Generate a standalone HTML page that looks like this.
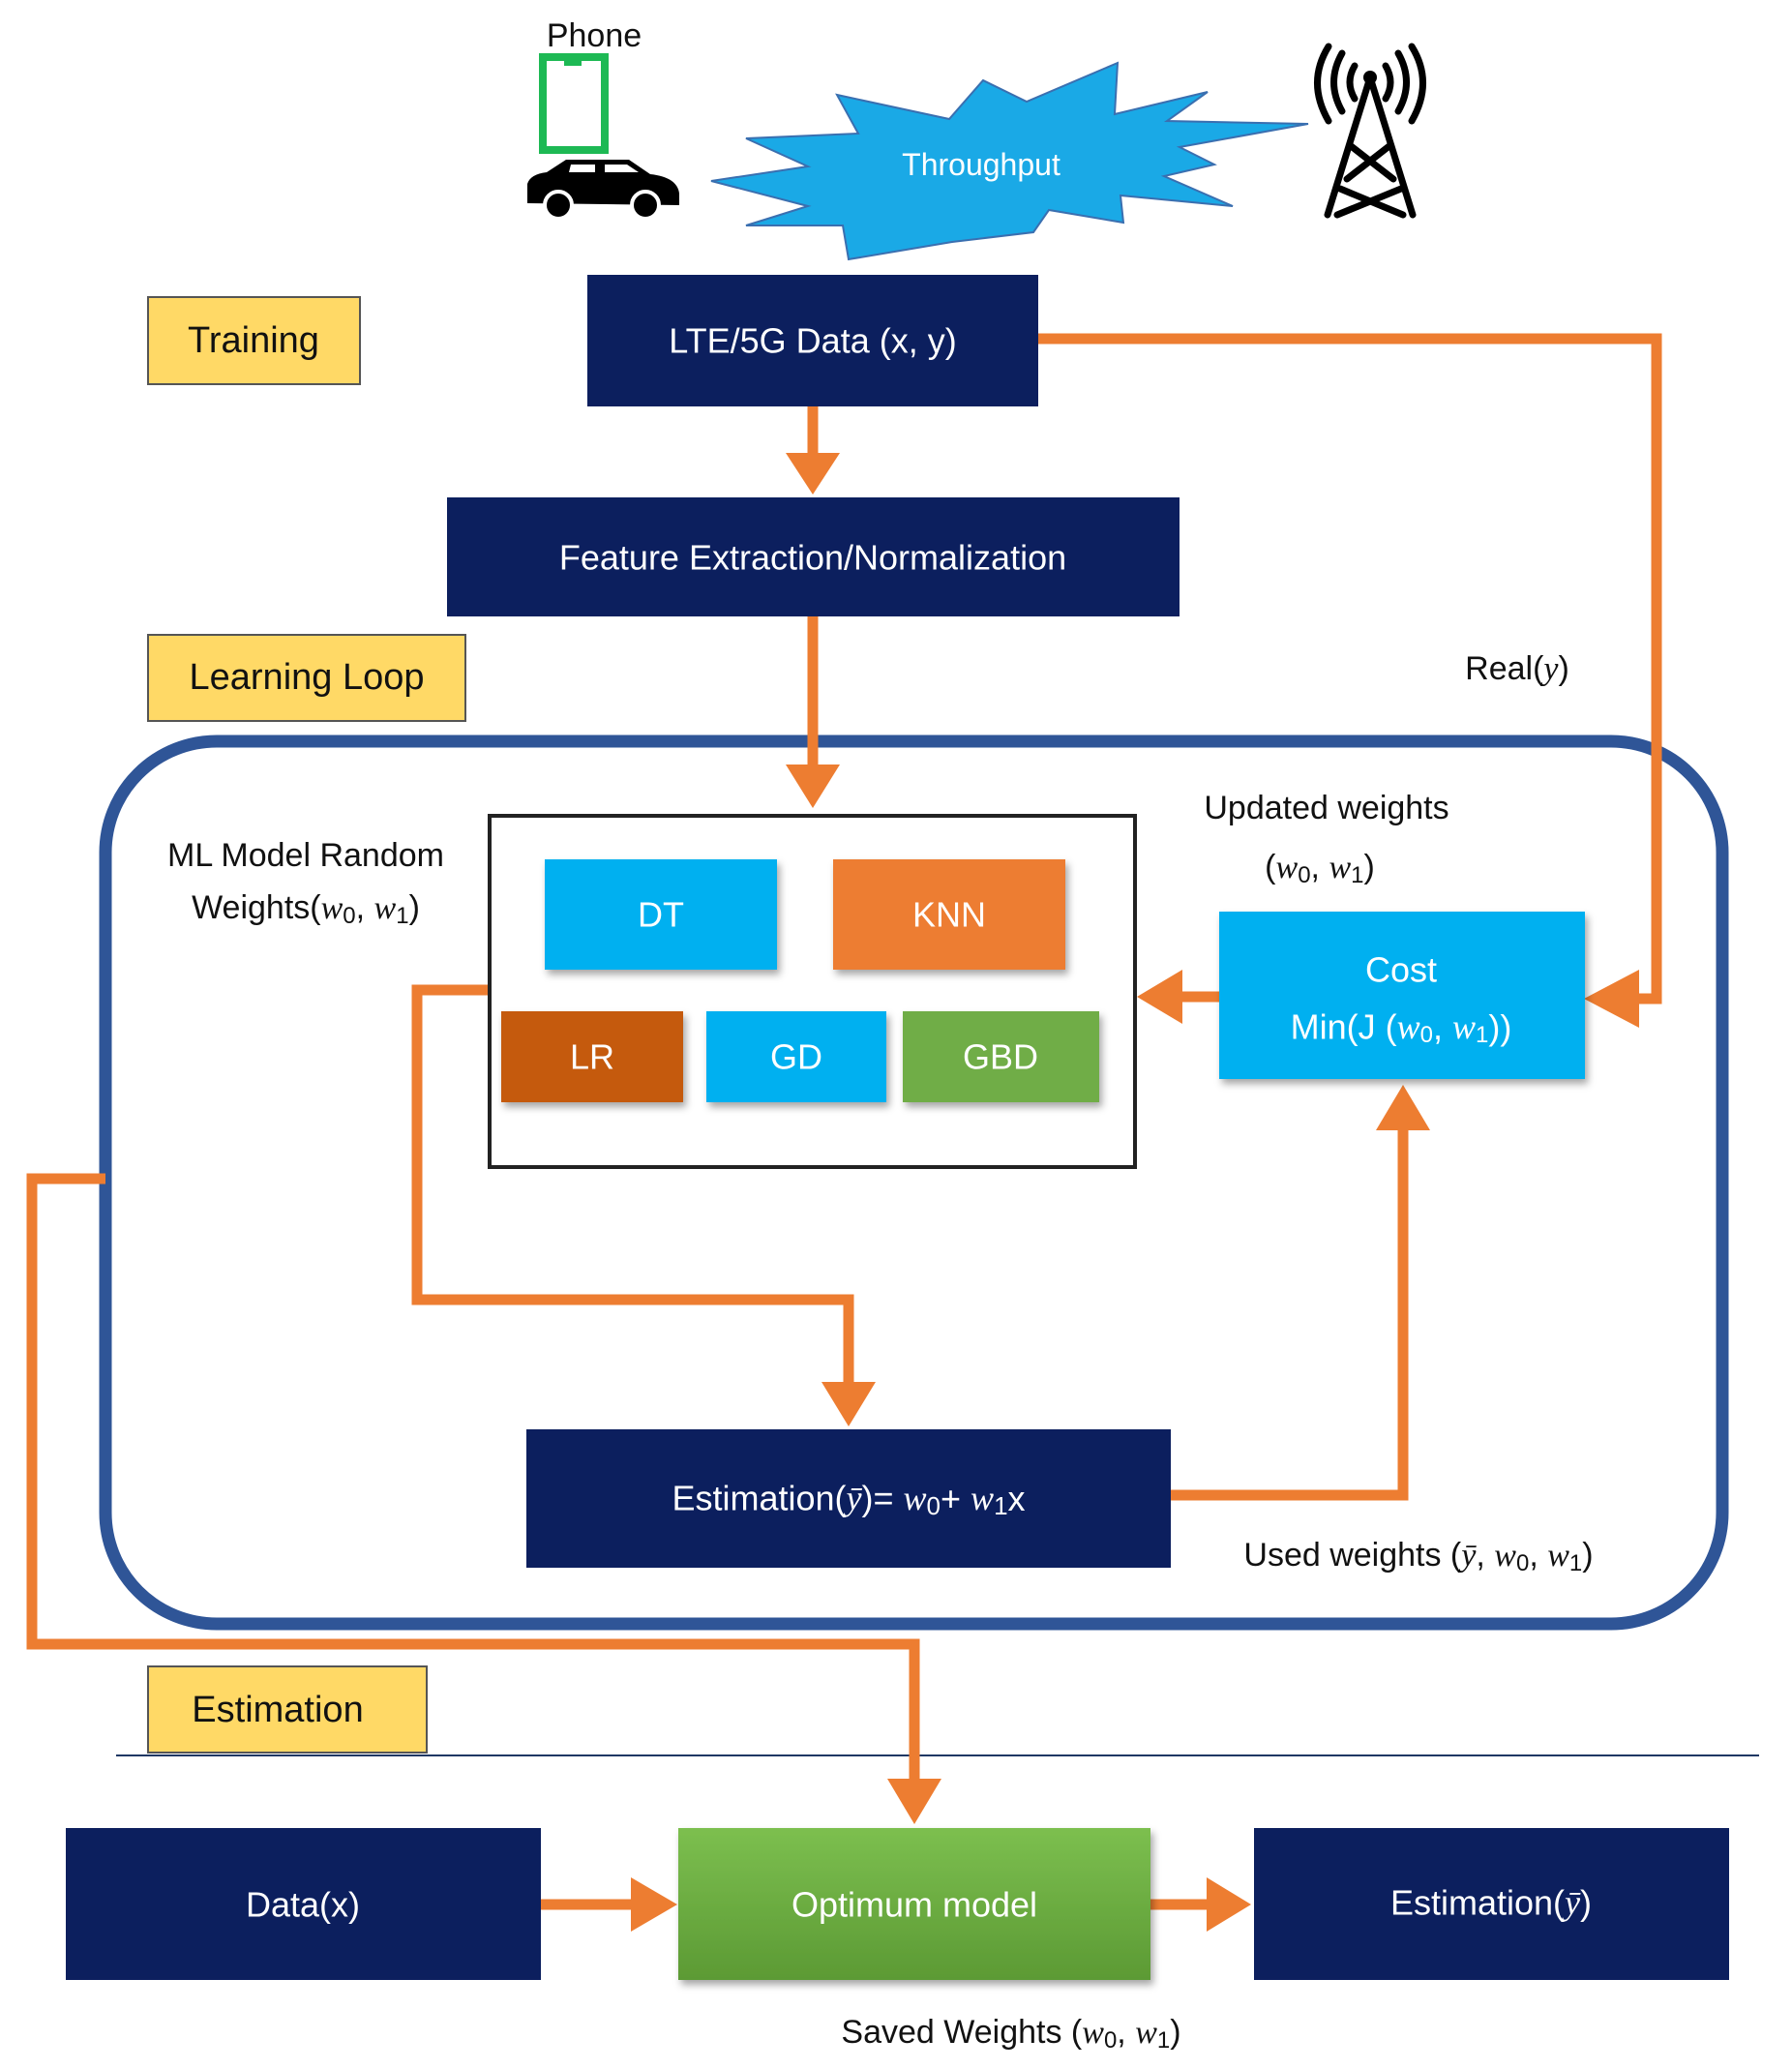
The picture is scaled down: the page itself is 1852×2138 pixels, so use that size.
<!DOCTYPE html>
<html><head><meta charset="utf-8"><style>
html,body{margin:0;padding:0;background:#fff;}
svg{display:block;}
text{font-family:"Liberation Sans",sans-serif;}
.w{fill:#fff;font-size:36px;text-anchor:middle;dominant-baseline:central;}
.k{fill:#111;font-size:34px;text-anchor:middle;dominant-baseline:central;}
.m{font-family:"Liberation Serif",serif;font-style:italic;}
</style></head><body>
<svg width="1852" height="2138" viewBox="0 0 1852 2138" xmlns="http://www.w3.org/2000/svg">
<defs>
<linearGradient id="g" x1="0" y1="0" x2="0" y2="1"><stop offset="0" stop-color="#7cbf4f"/><stop offset="1" stop-color="#5c9a34"/></linearGradient>
<filter id="sh" x="-10%" y="-10%" width="130%" height="140%"><feDropShadow dx="3" dy="5" stdDeviation="4" flood-color="#000" flood-opacity="0.35"/></filter>
</defs>
<!-- top icons -->
<text x="614" y="37" class="k" style="font-size:34px">Phone</text>
<rect x="561" y="59" width="64" height="96" fill="none" stroke="#1db954" stroke-width="8"/>
<rect x="583" y="62" width="18" height="6" fill="#1db954"/>
<path d="M545 210 L545 190 Q548 180 565 178 L585 165 L650 165 L672 180 Q700 183 702 200 L702 212 Z" fill="#000"/>
<path d="M590 170 L588 178 L615 178 L615 170 Z M625 170 L625 178 L660 178 L648 170 Z" fill="#fff"/>
<circle cx="577" cy="212" r="14" fill="#000" stroke="#fff" stroke-width="4"/>
<circle cx="667" cy="212" r="14" fill="#000" stroke="#fff" stroke-width="4"/>
<polygon points="735,187 835,172 771,143 887,138 865,98 981,123 1016,83 1061,105 1155,65 1152,118 1248,95 1206,125 1352,128 1219,152 1255,170 1203,182 1274,213 1158,202 1161,230 1084,217 1068,240 984,250 877,268 871,233 771,233 835,213" fill="#1aa9e6" stroke="#3a6fb0" stroke-width="2"/>
<text x="1014" y="170" class="w" style="font-size:32px">Throughput</text>
<g stroke="#000" stroke-width="7" fill="none" stroke-linecap="round">
<path d="M1416 80 L1372 222 M1416 80 L1460 222 M1395 150 L1440 185 M1437 150 L1392 185 M1385 195 L1450 222 M1448 195 L1382 222"/>
<path d="M1400 68 Q1390 85 1400 102 M1432 68 Q1442 85 1432 102"/>
<path d="M1387 55 Q1370 85 1387 115 M1445 55 Q1462 85 1445 115"/>
<path d="M1373 48 Q1350 85 1373 125 M1459 48 Q1482 85 1459 125"/>
</g>
<circle cx="1416" cy="80" r="7" fill="#000"/>
<!-- labels -->
<rect x="153" y="307" width="219" height="90" fill="#ffd966" stroke="#555" stroke-width="2"/>
<text x="262" y="352" class="k" style="font-size:38px">Training</text>
<rect x="153" y="656" width="328" height="89" fill="#ffd966" stroke="#555" stroke-width="2"/>
<text x="317" y="700" class="k" style="font-size:38px">Learning Loop</text>
<rect x="153" y="1722" width="288" height="89" fill="#ffd966" stroke="#555" stroke-width="2"/>
<text x="287" y="1767" class="k" style="font-size:38px">Estimation</text>
<!-- big loop -->
<rect x="109" y="766" width="1671" height="912" rx="115" fill="none" stroke="#2f5597" stroke-width="13"/>
<line x1="120" y1="1814" x2="1818" y2="1814" stroke="#1f3864" stroke-width="2"/>
<!-- orange connectors -->
<g stroke="#ed7d31" stroke-width="11" fill="none">
<path d="M1073 350 L1712 350 L1712 1032 L1680 1032"/>
<path d="M840 420 L840 470"/>
<path d="M840 637 L840 790"/>
<path d="M1260 1030 L1218 1030"/>
<path d="M506 1023 L431 1023 L431 1343 L877 1343 L877 1430"/>
<path d="M1210 1545 L1450 1545 L1450 1165"/>
<path d="M109 1218 L33 1218 L33 1699 L945 1699 L945 1840"/>
<path d="M559 1968 L655 1968"/>
<path d="M1189 1968 L1250 1968"/>
</g>
<g fill="#ed7d31">
<polygon points="1637,1032 1694,1002 1694,1062"/>
<polygon points="840,511 812,468 868,468"/>
<polygon points="840,835 812,790 868,790"/>
<polygon points="1175,1030 1222,1002 1222,1058"/>
<polygon points="877,1474 849,1428 905,1428"/>
<polygon points="1450,1121 1422,1168 1478,1168"/>
<polygon points="945,1885 917,1838 973,1838"/>
<polygon points="700,1968 652,1940 652,1996"/>
<polygon points="1293,1968 1247,1940 1247,1996"/>
</g>
<!-- nodes -->
<rect x="607" y="284" width="466" height="136" fill="#0c1f5e"/>
<text x="840" y="352" class="w">LTE/5G Data (x, y)</text>
<rect x="462" y="514" width="757" height="123" fill="#0c1f5e"/>
<text x="840" y="576" class="w">Feature Extraction/Normalization</text>
<text x="1568" y="691" class="k">Real(<tspan class="m">y</tspan>)</text>
<rect x="506" y="843" width="667" height="363" fill="none" stroke="#222" stroke-width="4"/>
<g filter="url(#sh)">
<rect x="563" y="888" width="240" height="114" fill="#00b0f0"/>
<rect x="861" y="888" width="240" height="114" fill="#ed7d31"/>
<rect x="518" y="1045" width="188" height="94" fill="#c55a11"/>
<rect x="730" y="1045" width="186" height="94" fill="#00b0f0"/>
<rect x="933" y="1045" width="203" height="94" fill="#70ad47"/>
<rect x="1260" y="942" width="378" height="173" fill="#00b0f0"/>
</g>
<text x="683" y="945" class="w">DT</text>
<text x="981" y="945" class="w">KNN</text>
<text x="612" y="1092" class="w">LR</text>
<text x="823" y="1092" class="w">GD</text>
<text x="1034" y="1092" class="w">GBD</text>
<text x="1448" y="1002" class="w">Cost</text>
<text x="1448" y="1061" class="w">Min(J (<tspan class="m">w</tspan><tspan font-size="24" dy="8">0</tspan><tspan dy="-8">, </tspan><tspan class="m">w</tspan><tspan font-size="24" dy="8">1</tspan><tspan dy="-8">))</tspan></text>
<text x="1371" y="835" class="k">Updated weights</text>
<text x="1364" y="896" class="k">(<tspan class="m">w</tspan><tspan font-size="24" dy="8">0</tspan><tspan dy="-8">, </tspan><tspan class="m">w</tspan><tspan font-size="24" dy="8">1</tspan><tspan dy="-8">)</tspan></text>
<text x="316" y="884" class="k">ML Model Random</text>
<text x="316" y="938" class="k">Weights(<tspan class="m">w</tspan><tspan font-size="24" dy="8">0</tspan><tspan dy="-8">, </tspan><tspan class="m">w</tspan><tspan font-size="24" dy="8">1</tspan><tspan dy="-8">)</tspan></text>
<rect x="544" y="1477" width="666" height="143" fill="#0c1f5e"/>
<text x="877" y="1548" class="w">Estimation(<tspan class="m">ȳ</tspan>)= <tspan class="m">w</tspan><tspan font-size="26" dy="8">0</tspan><tspan dy="-8">+ </tspan><tspan class="m">w</tspan><tspan font-size="26" dy="8">1</tspan><tspan dy="-8">x</tspan></text>
<text x="1466" y="1607" class="k">Used weights (<tspan class="m">ȳ</tspan>, <tspan class="m">w</tspan><tspan font-size="24" dy="8">0</tspan><tspan dy="-8">, </tspan><tspan class="m">w</tspan><tspan font-size="24" dy="8">1</tspan><tspan dy="-8">)</tspan></text>
<rect x="68" y="1889" width="491" height="157" fill="#0c1f5e"/>
<text x="313" y="1968" class="w">Data(x)</text>
<rect x="701" y="1889" width="488" height="157" fill="url(#g)" filter="url(#sh)"/>
<text x="945" y="1968" class="w">Optimum model</text>
<rect x="1296" y="1889" width="491" height="157" fill="#0c1f5e"/>
<text x="1541" y="1966" class="w">Estimation(<tspan class="m">ȳ</tspan>)</text>
<text x="1045" y="2100" class="k">Saved Weights (<tspan class="m">w</tspan><tspan font-size="24" dy="8">0</tspan><tspan dy="-8">, </tspan><tspan class="m">w</tspan><tspan font-size="24" dy="8">1</tspan><tspan dy="-8">)</tspan></text>
</svg>
</body></html>
